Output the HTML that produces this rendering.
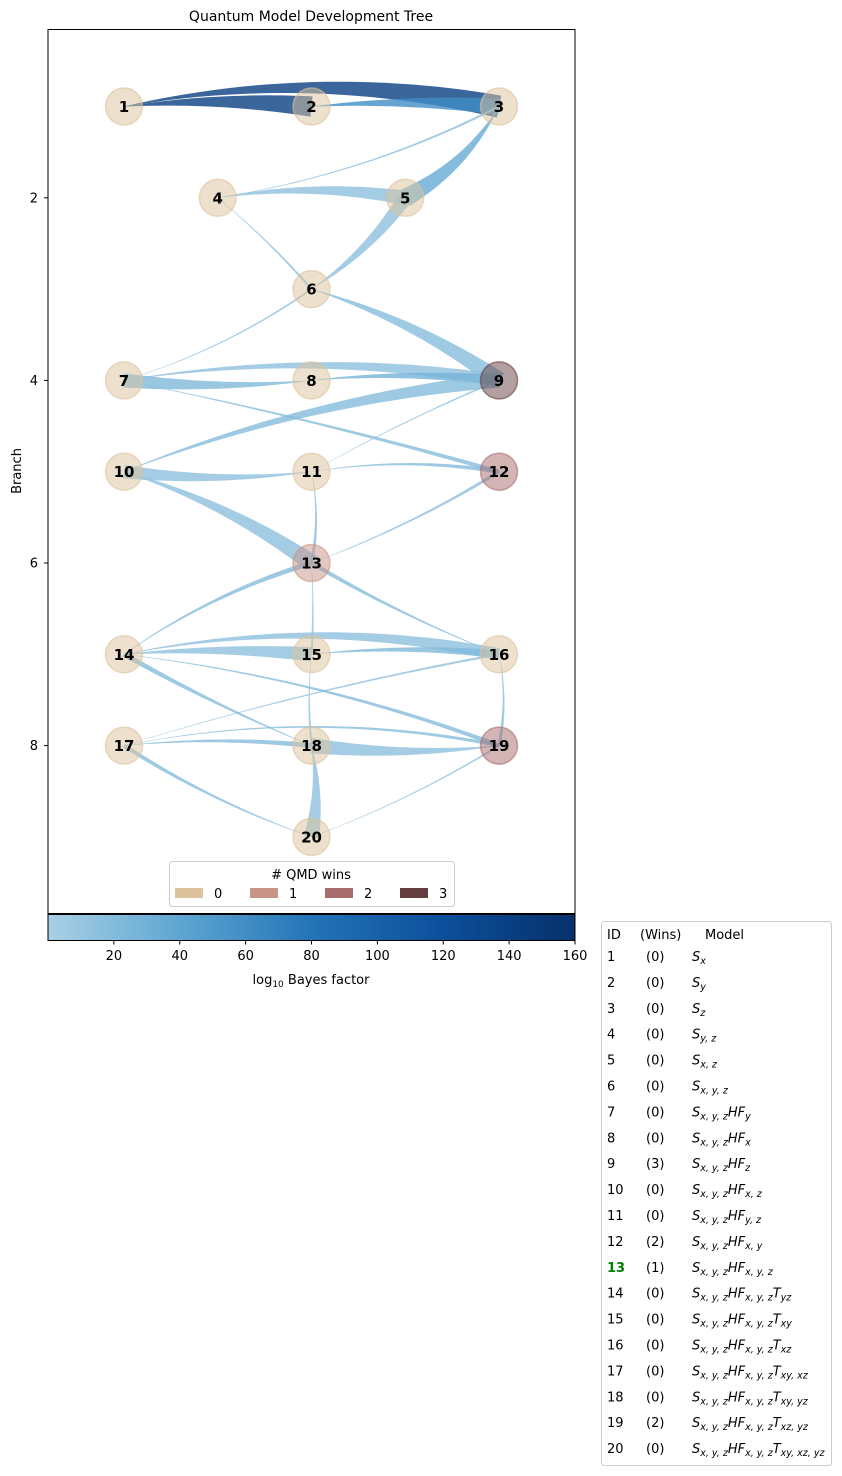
<!DOCTYPE html>
<html><head><meta charset="utf-8">
<style>
html,body{margin:0;padding:0;background:#fff;}
svg{display:block;font-family:"DejaVu Sans","Liberation Sans",sans-serif;}
</style></head>
<body>
<svg id="chart" width="842" height="1476" viewBox="0 0 842 1476" xmlns="http://www.w3.org/2000/svg">
<text x="311" y="21" font-size="14" text-anchor="middle">Quantum Model Development Tree</text>
<rect x="48" y="29.5" width="527" height="884" fill="#fff" stroke="#000" stroke-width="1"/>
<g id="edges"></g>
<g id="nodes"></g>
<g id="yaxis"></g>
<text x="21" y="471" font-size="13" text-anchor="middle" transform="rotate(-90 21 471)">Branch</text>
<g>
<rect x="169.5" y="861.5" width="285" height="45" rx="3" fill="#fff" fill-opacity="0.85" stroke="#ccc"/>
<text x="311" y="879" font-size="13" text-anchor="middle">&#35; QMD wins</text>
<g id="winsLegend"></g>
</g>
<defs><linearGradient id="cbg" x1="0" x2="1" y1="0" y2="0">
<stop offset="0" stop-color="#a9d0e6"/><stop offset="0.25" stop-color="#5ea6d2"/><stop offset="0.5" stop-color="#2474b7"/><stop offset="0.75" stop-color="#0b4f9b"/><stop offset="1" stop-color="#08306b"/>
</linearGradient></defs>
<rect x="48" y="914.5" width="527" height="26" fill="url(#cbg)" stroke="#000" stroke-width="1"/>
<g id="cbticks"></g>
<text x="311" y="984" font-size="13" text-anchor="middle">log<tspan font-size="9" dy="3">10</tspan><tspan dy="-3"> Bayes factor</tspan></text>
<g>
<rect x="601.5" y="921.5" width="230" height="544" rx="3" fill="#fff" stroke="#ccc"/>
<text x="607" y="939" font-size="13">ID</text>
<text x="640" y="939" font-size="13">(Wins)</text>
<text x="705" y="939" font-size="13">Model</text>
<g id="table"></g>
</g>
</svg>
<script>
const nodeIds=[1,2,3,4,5,6,7,8,9,10,11,12,13,14,15,16,17,18,19,20];
const nodeCols=[0,2,4,1,3,2,0,2,4,0,2,4,2,0,2,4,0,2,4,2];
const nodeBranch=[1,1,1,2,2,3,4,4,4,5,5,5,6,7,7,7,8,8,8,9];
const nodeWins=[0,0,0,0,0,0,0,0,3,0,0,2,1,0,0,0,0,0,2,0];
// edges: from (thin end), to (wide end), bayes value, width, bend
const edgeFrom=[1,1,2,4,3,4,4,6,6,7,7,8,8,10,7,11,11,13,11,10,11,14,16,13,15,18,14,14,15,17,14,18,16,17,17,19,20,20];
const edgeTo=  [3,2,3,3,5,5,6,5,9,6,9,7,9,9,12,9,12,12,10,13,13,13,13,15,18,20,16,15,16,16,19,14,19,19,18,18,17,19];
const edgeVal= [140,140,60,18,35,15,18,15,18,18,15,22,28,20,18,15,20,15,15,15,18,20,18,15,15,15,15,15,22,15,20,20,18,18,20,15,18,15];
const edgeW=   [22,20,16,2,18,14,2,14,17,1.5,12,14,10,14,4,1.5,4,3,13,17,3,5,4,2,2,15,12,14,8,2,4,5,3,3,5,15,4,1.5];
const edgeBend=[0.1,0.05,0.04,-0.08,0.15,0.08,0.04,-0.1,0.08,-0.08,0.08,0.05,0.05,0.07,0.02,0.03,0.08,-0.05,0.06,0.08,0.1,0.08,0.04,0.03,-0.05,0.1,0.1,0.04,0.05,0.03,0.06,0.03,0.1,0.1,0.05,0.06,0.06,-0.05];
const yTicks=[2,4,6,8];
const cbTicks=[20,40,60,80,100,120,140,160];
const winColors=["#dcc39c","#c99488","#a86c6c","#653f3f"];
const winLabels=["0","1","2","3"];
const models=[
[["S","x"]],[["S","y"]],[["S","z"]],[["S","y,z"]],[["S","x,z"]],[["S","x,y,z"]],
[["S","x,y,z"],["HF","y"]],[["S","x,y,z"],["HF","x"]],[["S","x,y,z"],["HF","z"]],
[["S","x,y,z"],["HF","x,z"]],[["S","x,y,z"],["HF","y,z"]],[["S","x,y,z"],["HF","x,y"]],
[["S","x,y,z"],["HF","x,y,z"]],
[["S","x,y,z"],["HF","x,y,z"],["T","yz"]],[["S","x,y,z"],["HF","x,y,z"],["T","xy"]],
[["S","x,y,z"],["HF","x,y,z"],["T","xz"]],[["S","x,y,z"],["HF","x,y,z"],["T","xy,xz"]],
[["S","x,y,z"],["HF","x,y,z"],["T","xy,yz"]],[["S","x,y,z"],["HF","x,y,z"],["T","xz,yz"]],
[["S","x,y,z"],["HF","x,y,z"],["T","xy,xz,yz"]]];

const NS="http://www.w3.org/2000/svg";
function mk(tag,attrs,parent){const e=document.createElementNS(NS,tag);for(const k in attrs)e.setAttribute(k,attrs[k]);parent.appendChild(e);return e;}
const xS=c=>124+c*93.75;
const yS=b=>106.5+(b-1)*91.3;
const cbX=v=>48+v/160*527;
const stops=[[0,[169,208,230]],[0.25,[94,166,210]],[0.5,[36,116,183]],[0.75,[11,79,155]],[1,[8,48,107]]];
function cmap(v){let t=Math.max(0,Math.min(1,v/160));for(let i=1;i<stops.length;i++){if(t<=stops[i][0]){const a=stops[i-1],b=stops[i];const f=(t-a[0])/(b[0]-a[0]);const c=a[1].map((x,j)=>Math.round(x+(b[1][j]-x)*f));return `rgb(${c})`;}}return "rgb(8,48,107)";}

const eg=document.getElementById('edges');
for(let i=0;i<edgeFrom.length;i++){
  const a=edgeFrom[i]-1,b=edgeTo[i]-1;
  const x0=xS(nodeCols[a]),y0=yS(nodeBranch[a]),x1=xS(nodeCols[b]),y1=yS(nodeBranch[b]);
  const dx=x1-x0,dy=y1-y0,L=Math.hypot(dx,dy);
  const nx=dy/L,ny=-dx/L;
  const cx=(x0+x1)/2+nx*edgeBend[i]*L,cy=(y0+y1)/2+ny*edgeBend[i]*L;
  const left=[],right=[];const N=30;
  for(let k=0;k<=N;k++){const t=k/N;
    const px=(1-t)*(1-t)*x0+2*(1-t)*t*cx+t*t*x1,py=(1-t)*(1-t)*y0+2*(1-t)*t*cy+t*t*y1;
    let tx=2*(1-t)*(cx-x0)+2*t*(x1-cx),ty=2*(1-t)*(cy-y0)+2*t*(y1-cy);const tl=Math.hypot(tx,ty)||1;
    const w=(0.3+edgeW[i]*t)/2;const ox=-ty/tl*w,oy=tx/tl*w;
    left.push((px+ox).toFixed(1)+","+(py+oy).toFixed(1));right.unshift((px-ox).toFixed(1)+","+(py-oy).toFixed(1));}
  const p=mk('path',{d:"M"+left.join("L")+"L"+right.join("L")+"Z",fill:cmap(edgeVal[i]),'fill-opacity':0.8},eg);
  
  
}
const ng=document.getElementById('nodes');
for(let i=0;i<nodeIds.length;i++){
  const g=mk('g',{},ng);
  
  
  const col=winColors[nodeWins[i]];
  mk('circle',{cx:xS(nodeCols[i]),cy:yS(nodeBranch[i]),r:18.5,fill:col,'fill-opacity':0.5,stroke:col,'stroke-opacity':0.6,'stroke-width':1.5},g);
  const t=mk('text',{x:xS(nodeCols[i]),y:yS(nodeBranch[i])+5.5,'font-size':15,'font-weight':'bold','text-anchor':'middle'},g);
  t.textContent=nodeIds[i];
}
const ya=document.getElementById('yaxis');
yTicks.forEach(v=>{
  const l=mk('line',{x1:44,x2:48,y1:yS(v),y2:yS(v),stroke:'#000'},ya);
  
  
  const t=mk('text',{x:38,y:yS(v)+4.5,'font-size':13,'text-anchor':'end'},ya);
  
  
  t.textContent=v;
});
const cb=document.getElementById('cbticks');
cbTicks.forEach(v=>{
  mk('line',{x1:cbX(v),x2:cbX(v),y1:940.5,y2:944.5,stroke:'#000'},cb);
  const t=mk('text',{x:cbX(v),y:960,'font-size':13,'text-anchor':'middle'},cb);
  
  
  t.textContent=v;
});
const wl=document.getElementById('winsLegend');
winLabels.forEach((lab,i)=>{
  const x=175+i*75;
  const r=mk('rect',{x:x,y:888,width:28,height:10,fill:winColors[i]},wl);
  
  
  const t=mk('text',{x:x+39,y:898,'font-size':13},wl);
  
  
  t.textContent=lab;
});
const tb=document.getElementById('table');
for(let i=0;i<nodeIds.length;i++){
  const y=961+i*25.9;
  const g=mk('g',{},tb);
  
  
  const id=mk('text',{x:607,y:y,'font-size':13},g);
  if(nodeIds[i]===13){id.setAttribute('fill','green');id.setAttribute('font-weight','bold');}
  id.textContent=nodeIds[i];
  const w=mk('text',{x:646,y:y,'font-size':13},g);w.textContent='('+nodeWins[i]+')';
  const m=mk('text',{x:692,y:y,'font-size':13,'font-style':'italic'},g);
  models[i].forEach(seg=>{
    const a=mk('tspan',{},m);a.textContent=seg[0];
    const s=mk('tspan',{'font-size':9.5,dy:3},m);s.textContent=seg[1].split(',').join(', ');
    const r=mk('tspan',{'font-size':1,dy:-3},m);r.textContent='\u200b';
  });
}
</script>
</body></html>
